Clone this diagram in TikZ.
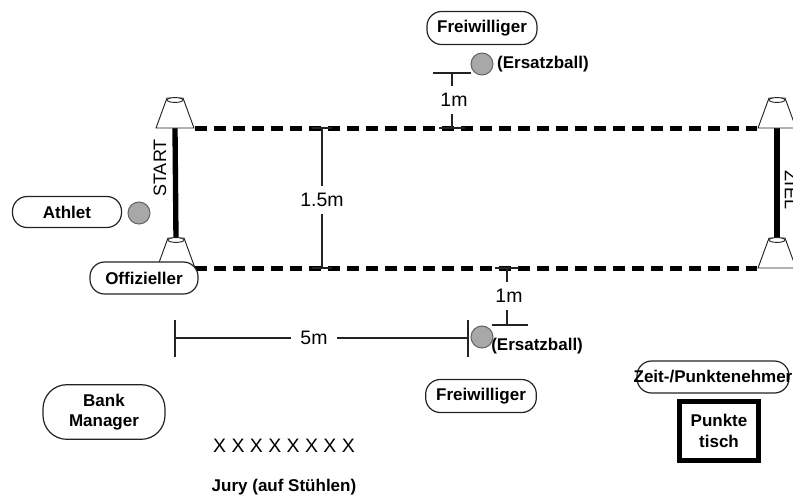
\documentclass[tikz,border=0pt]{standalone}
\usepackage{fontspec}
\setmainfont{Liberation Sans}
\usepackage{tikz}
\usetikzlibrary{positioning, calc}
\definecolor{inkgray}{RGB}{35, 35, 35}
\definecolor{ballgray}{RGB}{168, 168, 168}
\tikzset{
  role/.style={
    draw=inkgray, line width=0.9pt, fill=white,
    rounded corners=11pt, minimum height=24pt,
    font=\fontsize{12.75}{14.5}\selectfont\bfseries,
    align=center, inner xsep=2pt,
  },
  ball/.style={circle, draw=black!60, line width=0.8pt, fill=ballgray,
    minimum size=16.5pt, inner sep=0pt},
  balltag/.style={font=\fontsize{12.75}{14.5}\selectfont\bfseries, inner sep=0pt},
  lane/.style={draw=black, line width=3.75pt, dash pattern=on 9pt off 5.25pt},
  post/.style={draw=black, line width=4pt},
  dim/.style={draw=inkgray, line width=0.9pt},
  dimtag/.style={font=\fontsize{14.6}{16}\selectfont, inner sep=5pt},
  cone/.style={draw=inkgray, line width=0.7pt, fill=white},
}
% cone standing on the given coordinate
\newcommand{\conemark}[1]{%
  \draw[cone] ($(#1)+(-19,0)$) -- ($(#1)+(19,0)$) -- ($(#1)+(8,-30)$)
    -- ($(#1)+(-8,-30)$) -- cycle;
  \draw[cone] ($(#1)+(0,-28)$) ellipse [x radius=6pt, y radius=1.8pt];}

\begin{document}
\begin{tikzpicture}[x=0.75pt, y=-0.75pt]
\useasboundingbox (0,0) rectangle (793,497);

% lanes
\coordinate (laneTL) at (195,128);
\coordinate (laneTR) at (757,128);
\coordinate (laneBL) at (195,268);
\coordinate (laneBR) at (757,268);
\draw[lane] (laneTL) -- (laneTR);
\draw[lane] (laneBL) -- (laneBR);

% start and finish posts
\coordinate (startTop) at (175,128);
\coordinate (startBot) at (176,268);
\coordinate (zielTop) at (777,128);
\coordinate (zielBot) at (777,268);
\draw[post] (startTop) -- ($(startBot)+(0,-28)$);
\draw[post] (zielTop) -- ($(zielBot)+(0,-28)$);
\conemark{startTop}
\conemark{startBot}
\conemark{zielTop}
\conemark{zielBot}
\node[rotate=90, font=\fontsize{13.5}{15}\selectfont, inner sep=0pt] (startTag) at (160,168) {START};
\node[rotate=-90, font=\fontsize{13.5}{15}\selectfont, inner sep=0pt] (zielTag) at (791,190) {ZIEL};

% 1.5m width
\node[dimtag] (wideTag) at (322,200) {1.5m};
\coordinate (wT) at (322,128);
\coordinate (wB) at (322,268);
\draw[dim] (wT) -- (wideTag.north);
\draw[dim] (wideTag.south) -- (wB);
\draw[dim] ($(wT)+(-10,0)$) -- ($(wT)+(10,0)$);
\draw[dim] ($(wB)+(-10,0)$) -- ($(wB)+(10,0)$);

% top volunteer
\node[role, minimum width=82.5pt, minimum height=24.75pt] (volTop) at (482,28) {Freiwilliger};
\node[ball] (ballTop) at (482,64) {};
\node[balltag, right=2.5pt of ballTop] (spareTop) {(Ersatzball)};
\node[dimtag] (oneTop) at (454,100) {1m};
\coordinate (tA) at (452,73);
\coordinate (tB) at (452,128);
\coordinate (tL) at (433,73);
\coordinate (tR) at (471,73);
\draw[dim] (tL) -- (tR);
\draw[dim] (tA) -- (tA |- oneTop.north);
\draw[dim] (tA |- oneTop.south) -- (tB);
\draw[dim] ($(tB)+(-13,0)$) -- ($(tB)+(13,0)$);

% bottom volunteer
\node[ball] (ballBot) at (482,337) {};
\node[balltag, anchor=west] (spareBot) at (491,346) {(Ersatzball)};
\node[dimtag] (oneBot) at (509,296) {1m};
\coordinate (bA) at (507,268);
\coordinate (bB) at (507,325);
\draw[dim] (bA) -- (bA |- oneBot.north);
\draw[dim] (bA |- oneBot.south) -- (bB);
\draw[dim] ($(bB)+(-15,0)$) -- ($(bB)+(21,0)$);
\draw[dim] ($(bA)+(-12,0)$) -- ($(bA)+(12,0)$);
\node[role, minimum width=83pt, minimum height=24.75pt] (volBot) at (481,396) {Freiwilliger};

% 5m run-up
\node[dimtag, inner xsep=7pt] (fiveTag) at (314,338) {5m};
\coordinate (fL) at (175,338);
\coordinate (fR) at (468,338);
\draw[dim] (fL) -- (fiveTag.west);
\draw[dim] (fiveTag.east) -- (fR);
\draw[dim] ($(fL)+(0,-18)$) -- ($(fL)+(0,19)$);
\draw[dim] ($(fR)+(0,-18)$) -- ($(fR)+(0,19)$);

% people
\node[role, minimum width=81.75pt, minimum height=23.25pt] (athlete) at (67,212) {Athlet};
\node[ball] (ballAth) at (139,213) {};
\node[role, minimum width=81pt] (official) at (144,278) {Offizieller};
\node[role, minimum width=91.5pt, minimum height=41pt, rounded corners=18pt] (banker) at (104,412) {Bank\\Manager};
\node[role, inner xsep=-2.5pt] (timer) at (713,377) {Zeit-/Punktenehmer};
\node[draw=black, line width=3.75pt, minimum width=59.5pt, minimum height=44.5pt,
  align=center, font=\fontsize{12.75}{16}\selectfont\bfseries] (table) at (719,431) {Punkte\\tisch};

% jury
\node[font=\fontsize{14.6}{16}\selectfont, inner sep=0pt] (chairs) at (284,446) {X X X X X X X X};
\node[balltag] (jury) at (284,487) {Jury (auf Stühlen)};

\end{tikzpicture}
\end{document}
